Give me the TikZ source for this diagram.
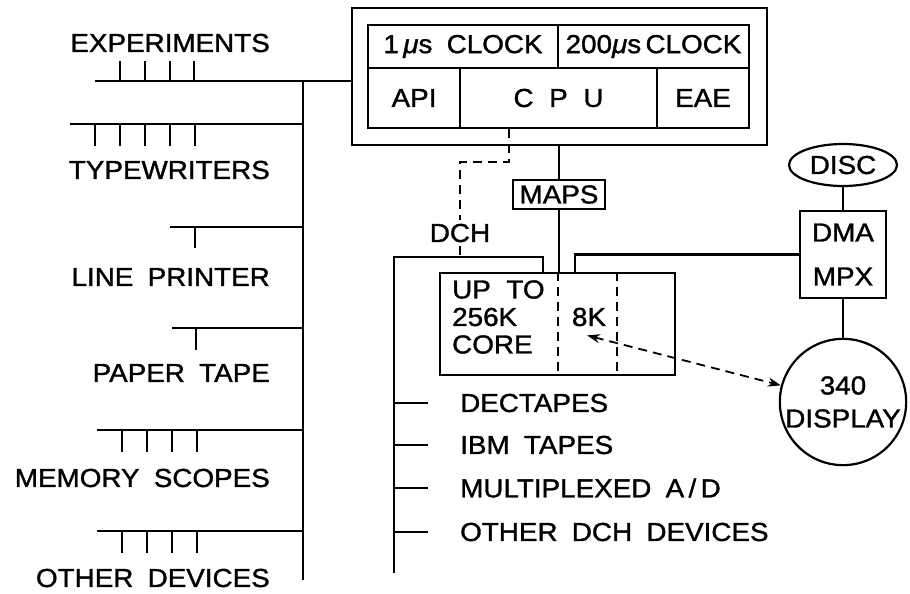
\documentclass[tikz,border=0pt]{standalone}
\usepackage{fontspec}
\setmainfont{Liberation Sans}[FakeStretch=1.07, FakeBold=1.3]
\usetikzlibrary{positioning,shapes.geometric,arrows.meta}

\newcommand\labfont[1][30]{\fontsize{26}{#1}\selectfont\spaceskip=0.55em\relax}

\begin{document}
\begin{tikzpicture}[x=1pt, y=-1pt,
    bus/.style={draw, line width=2.2pt},
    dashline/.style={draw, line width=1.8pt, dash pattern=on 9pt off 6pt},
    lab/.style={inner sep=0pt, font=\labfont},
    cell/.style={rectangle, draw, line width=2.2pt, inner sep=0pt, font=\labfont},
    both tips/.style={{Stealth[length=13pt, width=9pt]}-{Stealth[length=13pt, width=9pt]}}
]
    \useasboundingbox (0,0) rectangle (910,594);

    % processor
    \node[cell, minimum width=415pt, minimum height=137pt] (frame) at (559.5,76.5) {};
    \node[cell, minimum width=190pt, minimum height=43pt] (clkA) at (463,46.5) {1\,{\itshape μ}s CLOCK};
    \node[cell, minimum width=191pt, minimum height=43pt] (clkB) at (653.5,46.5) {200{\itshape μ}s\,CLOCK};
    \node[cell, minimum width=92pt, minimum height=60pt] (api) at (414,98) {API};
    \node[cell, minimum width=197pt, minimum height=60pt] (cpu) at (558.5,98) {C\hspace{0.6em}P\hspace{0.6em}U};
    \node[cell, minimum width=92pt, minimum height=60pt] (eae) at (703,98) {EAE};

    % memory
    \node[cell, minimum width=92pt, minimum height=29pt] (maps) at (559,194.5) {MAPS};
    \node[cell, minimum width=235pt, minimum height=102pt] (core) at (557.5,324) {};
    \node[lab, anchor=west, align=left, font={\labfont[27.5]}] (corelab) at (452,317) {UP\hspace{0.6em}TO\\256K\\CORE};
    \node[lab] (k8) at (589,317) {8K};
    \coordinate (divA) at (558,0);
    \coordinate (divB) at (617,0);
    \draw[dashline] (divA |- core.north) -- (divA |- core.south);
    \draw[dashline] (divB |- core.north) -- (divB |- core.south);

    % display side
    \node[ellipse, draw, line width=2.2pt, inner sep=0pt, minimum width=108pt, minimum height=42pt, font=\labfont] (disc) at (843,165) {DISC};
    \node[cell, align=center, minimum width=86pt, minimum height=87pt, font={\labfont[44]}] (dma) at (843,254.5) {DMA\\MPX};
    \node[circle, draw, line width=2.2pt, inner sep=0pt, minimum size=124pt, align=center, font={\labfont[33]}] (disp) at (843,402) {340\\DISPLAY};

    \draw[bus] (frame.south -| maps) -- (maps.north);
    \draw[bus] (maps.south) -- (maps.south |- core.north);
    \draw[bus] (disc.south) -- (dma.north);
    \draw[bus] (dma.south) -- (disp.north);
    \coordinate (dmaJ) at (575,257);
    \draw[bus] (dmaJ |- core.north) |- (dma.west);
    \draw[dashline, both tips] ([shift={(-2,9)}]k8.south) -- (disp.165);

    % data channel
    \node[lab, inner sep=4pt] (dch) at (460,233) {DCH};
    \coordinate (dchTop) at (509,0);
    \coordinate (dchBend) at (460,162);
    \coordinate (dchL) at (394,257);
    \coordinate (dchR) at (543,257);
    \coordinate (dchB) at (394,573);
    \draw[dashline] (dchTop |- cpu.south) |- (dchBend) -- (dch.north);
    \draw[dashline] (dch.south) -- (dch.south |- dchL);
    \draw[bus] (dchR |- core.north) -- (dchR) -- (dchL) -- (dchB);
    \foreach \y/\t [count=\i] in {403/DECTAPES, 445/IBM TAPES, 488/{MULTIPLEXED A\,/\,D}, 532/OTHER DCH DEVICES} {
        \node[lab, anchor=west] (dev\i) at (460,\y) {\t};
        \draw[bus] (dchB |- dev\i.west) -- ++(34,0);
    }

    % i/o bus
    \coordinate (busT) at (303,81);
    \coordinate (busB) at (303,580);
    \draw[bus] (busT) -- (busB);

    \coordinate (expL) at (95,81);
    \draw[bus] (expL) -- (frame.west |- expL);
    \foreach \x in {120,145,170,194} \draw[bus] (\x,81) -- ++(0,-20);
    \node[lab, anchor=east] (exp) at (270,43) {EXPERIMENTS};

    \coordinate (tyL) at (70,124);
    \draw[bus] (tyL) -- (busT |- tyL);
    \foreach \x in {95,120,145,170,195} \draw[bus] (\x,124) -- ++(0,22);
    \node[lab, anchor=east] (ty) at (270,170) {TYPEWRITERS};

    \coordinate (lpL) at (170,227);
    \draw[bus] (lpL) -- (busT |- lpL);
    \draw[bus] (195,227) -- ++(0,21);
    \node[lab, anchor=east] (lp) at (270,277) {LINE PRINTER};

    \coordinate (ptL) at (172,328);
    \draw[bus] (ptL) -- (busT |- ptL);
    \draw[bus] (196,328) -- ++(0,22);
    \node[lab, anchor=east] (pt) at (270,373) {PAPER TAPE};

    \coordinate (msL) at (97,430);
    \draw[bus] (msL) -- (busT |- msL);
    \foreach \x in {122,147,172,197} \draw[bus] (\x,430) -- ++(0,22);
    \node[lab, anchor=east] (ms) at (270,478) {MEMORY SCOPES};

    \coordinate (odL) at (97,531);
    \draw[bus] (odL) -- (busT |- odL);
    \foreach \x in {122,147,172,197} \draw[bus] (\x,531) -- ++(0,22);
    \node[lab, anchor=east] (od) at (270,578) {OTHER DEVICES};
\end{tikzpicture}
\end{document}
